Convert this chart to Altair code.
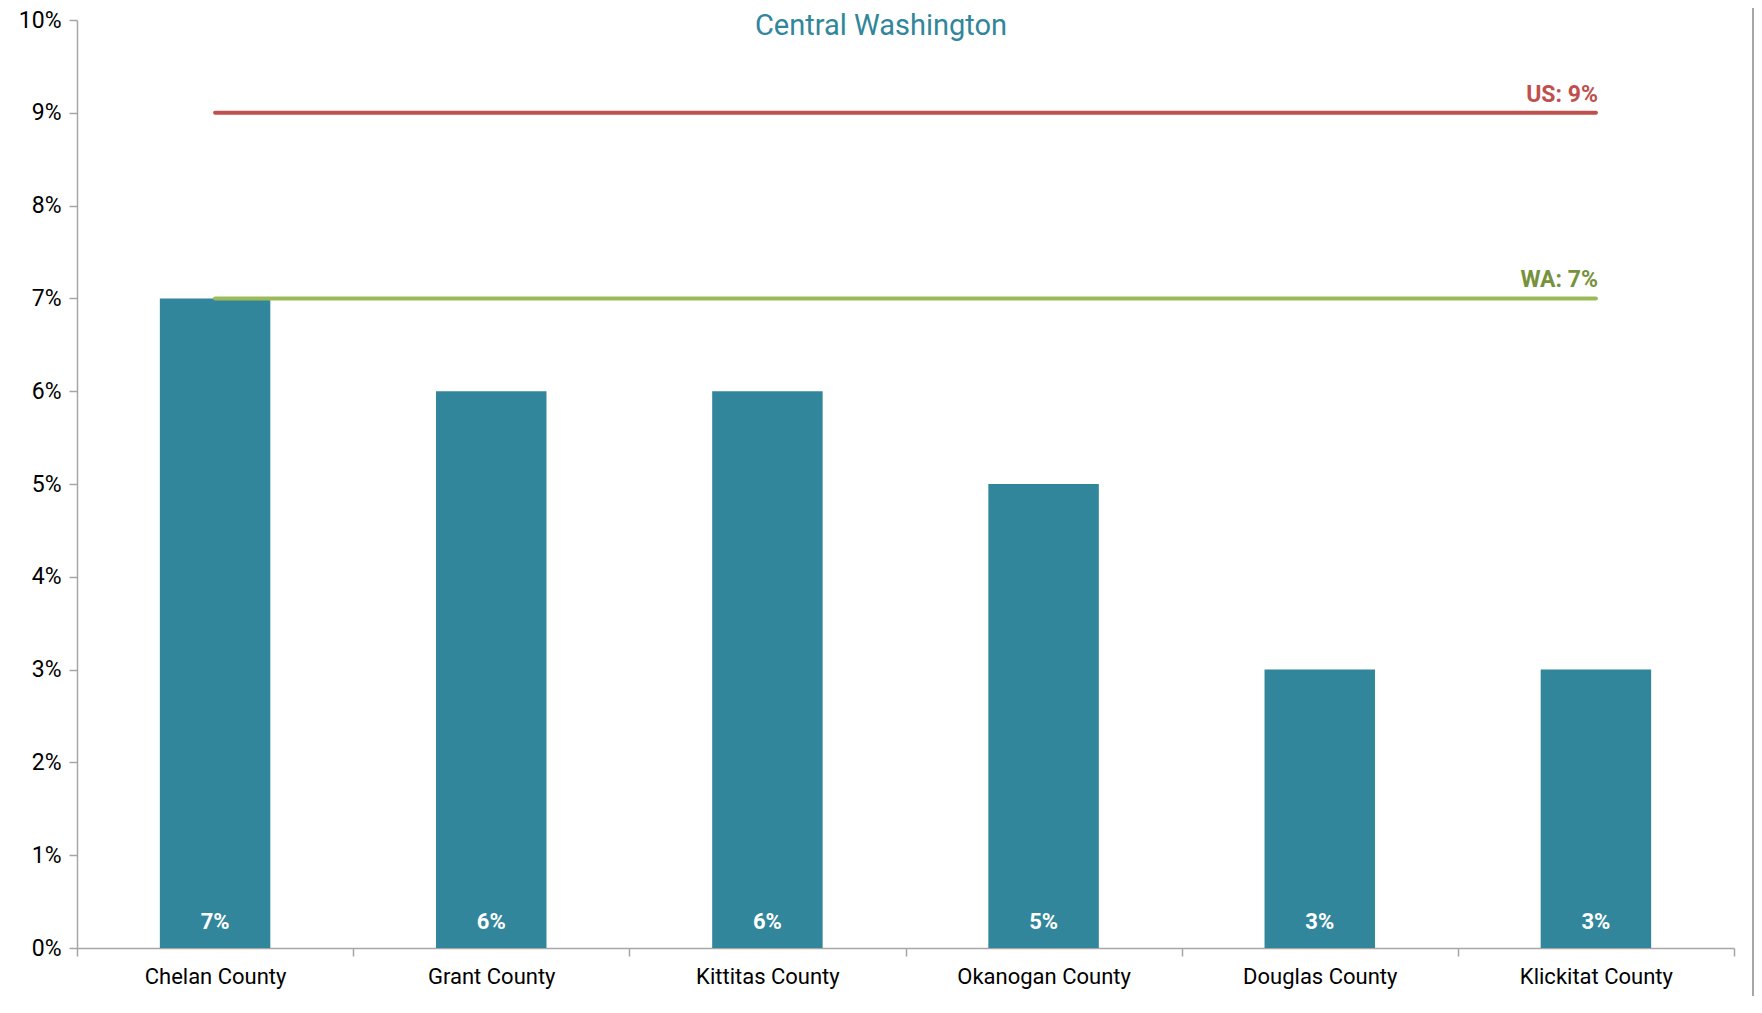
import altair as alt
import pandas as pd

counties = ["Chelan County", "Grant County", "Kittitas County", "Okanogan County", "Douglas County", "Klickitat County"]
values = [0.07, 0.06, 0.06, 0.05, 0.03, 0.03]
ref_names = ["US", "WA"]
ref_values = [0.09, 0.07]
ref_colors = ["#C0504D", "#9BBB59"]
ref_text_colors = ["#C0504D", "#76923C"]

FONT = "Roboto"
W, H = 1657, 928

bars_df = pd.DataFrame({"county": counties, "value": values,
                        "label": [f"{round(v*100)}%" for v in values]})
rows = []
for n, v in zip(ref_names, ref_values):
    for cty in [counties[0], counties[-1]]:
        rows.append({"series": n, "county": cty, "value": v})
lines_df = pd.DataFrame(rows)
lab_df = pd.DataFrame({"series": ref_names, "county": [counties[-1]] * 2, "value": ref_values,
                       "label": [f"{n}: {round(v*100)}%" for n, v in zip(ref_names, ref_values)]})

xenc = alt.X("county:N", sort=counties, title=None,
             scale=alt.Scale(paddingInner=0, paddingOuter=0),
             axis=alt.Axis(labelAngle=0, labelFont=FONT, labelFontSize=22, labelColor="#000000",
                           labelPadding=10, tickBand="extent", tickSize=8, tickColor="#A6A6A6",
                           domainColor="#A6A6A6", domainWidth=1.5, tickWidth=1.5))
yenc = alt.Y("value:Q", title=None,
             scale=alt.Scale(domain=[0, 0.1], nice=False),
             axis=alt.Axis(format=".0%", values=[i / 100 for i in range(11)], grid=False,
                           labelFont=FONT, labelFontSize=23, labelColor="#000000",
                           labelPadding=8, tickSize=8, tickColor="#A6A6A6",
                           domainColor="#A6A6A6", domainWidth=1.5, tickWidth=1.5))

bars = alt.Chart(bars_df).mark_bar(color="#31869B", width=alt.RelativeBandSize(0.4)).encode(x=xenc, y=yenc)

bar_labels = alt.Chart(bars_df).mark_text(color="white", font=FONT, fontSize=22, fontWeight="bold",
                                          baseline="middle").encode(
    x=alt.X("county:N", sort=counties), y=alt.value(H - 26), text="label:N")

color_scale = alt.Scale(domain=ref_names, range=ref_colors)
lines = alt.Chart(lines_df).mark_line(strokeWidth=4, strokeCap="round").encode(
    x=alt.X("county:N", sort=counties),
    y="value:Q",
    color=alt.Color("series:N", scale=color_scale, legend=None),
    detail="series:N")

ref_labels = alt.Chart(lab_df).mark_text(font=FONT, fontSize=23, fontWeight="bold",
                                         align="right", baseline="bottom", dx=2, dy=-6).encode(
    x=alt.X("county:N", sort=counties),
    y="value:Q",
    text="label:N",
    color=alt.Color("series:N", scale=alt.Scale(domain=ref_names, range=ref_text_colors), legend=None))

title = alt.Chart(pd.DataFrame({"t": ["Central Washington"]})).mark_text(
    font=FONT, fontSize=29, color="#31869B", baseline="middle", align="center").encode(
    x=alt.value(804), y=alt.value(6), text="t:N")

frame = alt.Chart(pd.DataFrame({"a": [0]})).mark_rule(color="#A6A6A6", strokeWidth=2).encode(
    x=alt.value(W + 19), y=alt.value(-12), y2=alt.value(H + 48))

chart = alt.layer(bars, lines, bar_labels, ref_labels, title, frame).resolve_scale(color="independent").properties(
    width=W, height=H,
    autosize=alt.AutoSizeParams(type="none"),
    padding={"left": 69, "top": 12, "right": 20, "bottom": 48},
).configure_view(stroke=None)

chart.save("out.html", embed_options={"renderer": "svg", "actions": False})
